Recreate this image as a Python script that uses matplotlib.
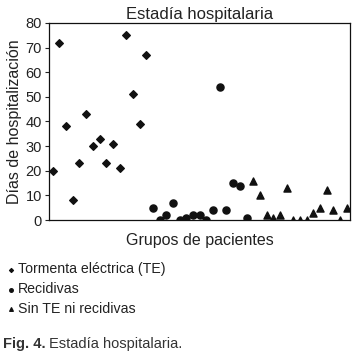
import numpy as np
import matplotlib.pyplot as plt

plt.rcParams['font.family'] = ['Liberation Sans', 'DejaVu Sans']

# Días de hospitalización por paciente, en orden de aparición
te_dias = [20, 72, 38, 8, 23, 43, 30, 33, 23, 31, 21, 75, 51, 39, 67]
rec_dias = [5, 0, 2, 7, 0, 1, 2, 2, 0, 4, 54, 4, 15, 14, 1]
sin_dias = [16, 10, 2, 1, 2, 13, 0, 0, 0, 3, 5, 12, 4, 0, 5]
etiquetas = ["Tormenta eléctrica (TE)", "Recidivas", "Sin TE ni recidivas"]

x_te = np.arange(1, len(te_dias) + 1)
x_rec = np.arange(1, len(rec_dias) + 1) + len(te_dias)
x_sin = np.arange(1, len(sin_dias) + 1) + len(te_dias) + len(rec_dias)

fig = plt.figure(figsize=(3.58, 3.52), dpi=100)
ax = fig.add_axes([0.137, 0.375, 0.841, 0.56])

h1 = ax.scatter(x_te, te_dias, marker='D', s=15, color='#111111', label=etiquetas[0])
h2 = ax.scatter(x_rec, rec_dias, marker='o', s=26, color='#111111', label=etiquetas[1])
h3 = ax.scatter(x_sin, sin_dias, marker='^', s=26, color='#111111', label=etiquetas[2])

ax.set_xlim(0.45, 45.5)
ax.set_ylim(0, 80)
ax.set_yticks(range(0, 81, 10))
ax.set_xticks([])
ax.tick_params(axis='y', length=3, width=0.8, labelsize=10.5, pad=2, colors='#222222')
for sp in ax.spines.values():
    sp.set_linewidth(0.9)
    sp.set_color('#111111')

ax.set_title("Estadía hospitalaria", fontsize=12, color='#222222', pad=3)
ax.set_ylabel("Días de hospitalización", fontsize=11.5, color='#222222', labelpad=3)
ax.set_xlabel("Grupos de pacientes", fontsize=11.5, color='#222222', labelpad=9)

fig.legend(handles=[h1, h2, h3], loc='upper left', bbox_to_anchor=(-0.005, 0.283),
           frameon=False, fontsize=10.2, markerscale=0.5, handlelength=0.4,
           handletextpad=0.3, labelspacing=0.42, borderpad=0.2, labelcolor='#222222')

fig.text(0.008, 0.012, "Fig. 4.", fontsize=10.5, fontweight='bold', color='#333333')
fig.text(0.137, 0.012, "Estadía hospitalaria.", fontsize=10.5, color='#333333')

fig.savefig("out.png", dpi=100)
